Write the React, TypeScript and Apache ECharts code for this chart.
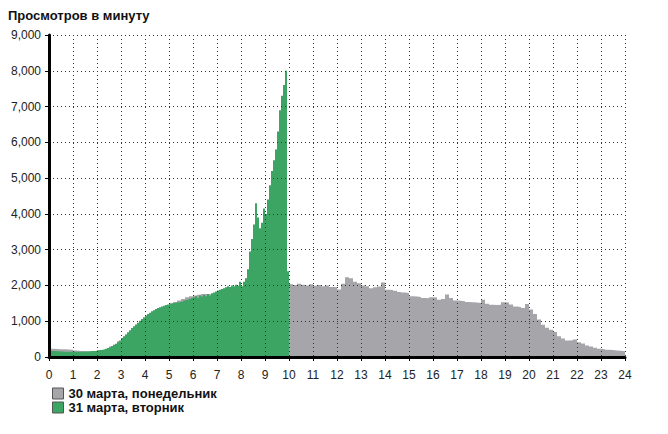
import React, { useEffect, useRef } from "react";
import * as echarts from "echarts";

const titleText = "Просмотров в минуту";
const grayName = "30 марта, понедельник";
const greenName = "31 марта, вторник";

// 30 марта: 10-minute steps, 0:00 .. 23:50
const grayValues: number[] = [
  230, 225, 220, 215, 210, 205,
  180, 170, 165, 160, 165, 170,
  190, 200, 230, 290, 350, 440,
  520, 620, 720, 830, 930, 1030,
  1130, 1220, 1290, 1350, 1400, 1450,
  1500, 1540, 1580, 1620, 1670, 1700,
  1720, 1740, 1760, 1760, 1750, 1780,
  1820, 1850, 1880, 1900, 1920, 1940,
  1950, 1960, 1980, 2000, 2000, 2010,
  2000, 2020, 2010, 2030, 2020, 2040,
  2030, 2010, 2050, 2020, 2000, 2030,
  1990, 2010, 1980, 2000, 1960, 1950,
  1890, 2050, 2230, 2200, 2100, 2060,
  2000, 1980, 1920, 1950, 1970, 2080,
  1880, 1870, 1850, 1820, 1800, 1790,
  1700, 1690, 1680, 1650, 1640, 1670,
  1660, 1600, 1620, 1750, 1650, 1580,
  1570, 1560, 1540, 1530, 1520, 1510,
  1600, 1490, 1460, 1450, 1460, 1530,
  1520, 1470, 1410, 1400, 1370, 1480,
  1330, 1200, 1050, 900, 820, 760,
  700, 580, 520, 460, 470, 490,
  410, 380, 320, 290, 260, 230,
  220, 200, 195, 185, 175, 160,
];

// 31 марта: 5-minute steps, 0:00 .. 9:55
const greenValues: number[] = [
  170, 165, 165, 160, 160, 155, 155, 150, 150, 150, 145, 145,
  145, 145, 145, 150, 150, 150, 155, 155, 160, 165, 170, 175,
  190, 195, 205, 215, 230, 250, 275, 305, 335, 370, 410, 460,
  530, 580, 630, 690, 750, 810, 860, 910, 960, 1010, 1060, 1110,
  1160, 1200, 1240, 1280, 1310, 1340, 1370, 1390, 1410, 1430, 1450, 1470,
  1490, 1500, 1510, 1520, 1530, 1540, 1550, 1570, 1590, 1610, 1630, 1650,
  1670, 1700, 1650, 1720, 1690, 1740, 1700, 1760, 1720, 1780, 1800, 1830,
  1860, 1880, 1900, 1920, 1950, 1980, 1960, 2000, 1980, 2020, 1990, 2100,
  1980, 2100, 2200, 2450, 2950, 3300, 3700, 4300, 3900, 3600, 3750, 4150,
  4000, 4400, 4800, 5200, 5500, 5800, 6300, 6900, 7300, 7600, 8000, 2400,
];

const grayStepHours = 1 / 6;
const greenStepHours = 1 / 12;

function toSeries(values: number[], step: number): [number, number][] {
  const pts: [number, number][] = values.map((v, i) => [i * step, v]);
  pts.push([values.length * step, values[values.length - 1]]);
  return pts;
}

export default function App() {
  const ref = useRef<HTMLDivElement>(null);
  useEffect(() => {
    if (!ref.current) return;
    const chart = echarts.init(ref.current, null, { renderer: "svg" });
    const font = "Arial, 'Liberation Sans', sans-serif";
    chart.setOption({
      animation: false,
      backgroundColor: "#ffffff",
      title: {
        text: titleText,
        left: 3,
        top: 4,
        textStyle: { fontSize: 13, fontWeight: "bold", color: "#111", fontFamily: font },
      },
      legend: {
        orient: "vertical",
        left: 50,
        top: 385,
        padding: [2, 2, 2, 2],
        itemWidth: 11,
        itemHeight: 11,
        itemGap: 1,
        icon: "rect",
        data: [grayName, greenName],
        itemStyle: { borderColor: "#555", borderWidth: 1 },
        textStyle: { fontSize: 13, fontWeight: "bold", color: "#111", fontFamily: font, lineHeight: 13 },
      },
      grid: { left: 49, right: 43, top: 35, bottom: 77, containLabel: false },
      xAxis: {
        type: "value",
        min: 0,
        max: 24,
        interval: 1,
        z: 5,
        axisLine: { show: true, onZero: false, lineStyle: { color: "#000", width: 3 } },
        axisTick: { show: true, length: 4, lineStyle: { color: "#000" } },
        axisLabel: { color: "#222", fontSize: 12, fontFamily: font, margin: 12 },
        splitLine: { show: true, lineStyle: { color: "#333", type: [1, 3], width: 1 } },
      },
      yAxis: {
        type: "value",
        min: 0,
        max: 9000,
        interval: 1000,
        z: 5,
        axisLine: { show: true, lineStyle: { color: "#000", width: 3 } },
        axisTick: { show: true, length: 4, lineStyle: { color: "#000" } },
        axisLabel: {
          color: "#222",
          fontSize: 12,
          fontFamily: font,
          margin: 8,
          formatter: (v: number) => v.toLocaleString("en-US"),
        },
        splitLine: { show: true, lineStyle: { color: "#333", type: [1, 3], width: 1 } },
      },
      series: [
        {
          name: grayName,
          type: "line",
          step: "end",
          symbol: "none",
          z: 1,
          color: "#a6a6aa",
          lineStyle: { width: 0 },
          areaStyle: { color: "#a6a6aa", opacity: 1 },
          data: toSeries(grayValues, grayStepHours),
        },
        {
          name: greenName,
          type: "line",
          step: "end",
          symbol: "none",
          z: 2,
          color: "#3ca563",
          lineStyle: { width: 0 },
          areaStyle: { color: "#3ca563", opacity: 1 },
          data: toSeries(greenValues, greenStepHours),
        },
      ],
    });
    return () => chart.dispose();
  }, []);
  return (
    <div
      ref={ref}
      style={{ position: "fixed", left: 0, top: 0, width: 668, height: 434 }}
    />
  );
}
